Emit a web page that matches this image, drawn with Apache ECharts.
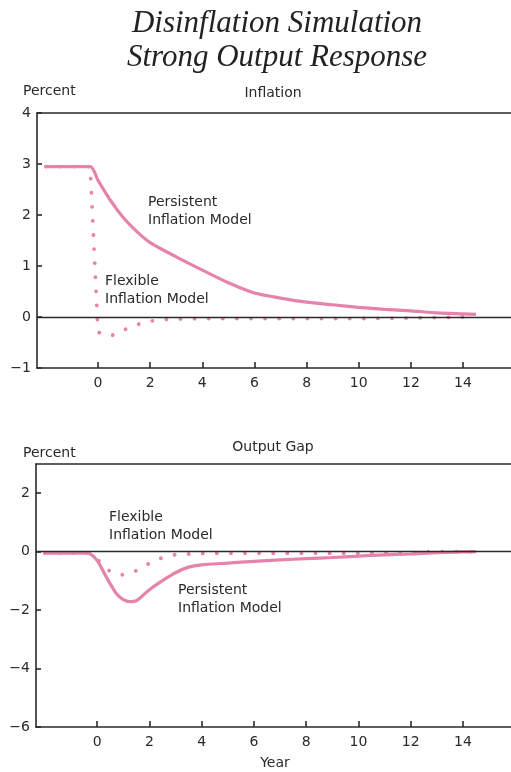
<!DOCTYPE html>
<html>
<head>
<meta charset="utf-8">
<script src="https://cdn.jsdelivr.net/npm/echarts@6/dist/echarts.min.js"></script>
<style>
html,body{margin:0;padding:0;background:#fff;}
#chart{width:511px;height:772px;}
</style>
</head>
<body>
<div id="chart"></div>
<script>
// ---- data ----
const xTickValues = [0, 2, 4, 6, 8, 10, 12, 14];
const inflYTicks = [-1, 0, 1, 2, 3, 4];
const gapYTicks = [-6, -4, -2, 0, 2];

const inflPersistentYears = [-2.0, -0.3, 0, 0.5, 1, 1.5, 2, 3, 4, 5, 6, 7, 8, 9, 10, 11, 12, 13, 14, 14.5];
const inflPersistentVals  = [2.95, 2.95, 2.68, 2.27, 1.93, 1.67, 1.46, 1.18, 0.92, 0.67, 0.47, 0.37, 0.29, 0.24, 0.19, 0.15, 0.12, 0.08, 0.06, 0.05];

const inflFlexibleYears = [-2.0, -0.3, 0, 0.5, 1, 1.5, 2, 2.5, 3, 4, 5, 6, 8, 10, 12, 13, 14, 14.5];
const inflFlexibleVals  = [2.95, 2.95, -0.3, -0.37, -0.25, -0.15, -0.08, -0.05, -0.04, -0.03, -0.03, -0.03, -0.03, -0.03, -0.02, -0.01, 0, 0];

const gapPersistentYears = [-2.0, -0.35, 0, 0.25, 0.5, 0.75, 1, 1.25, 1.5, 1.75, 2, 2.5, 3, 3.5, 4, 5, 6, 7, 8, 9, 10, 11, 12, 13, 14, 14.5];
const gapPersistentVals  = [-0.05, -0.05, -0.3, -0.7, -1.1, -1.45, -1.64, -1.71, -1.68, -1.5, -1.3, -0.99, -0.72, -0.53, -0.45, -0.39, -0.33, -0.28, -0.24, -0.2, -0.15, -0.11, -0.08, -0.03, -0.01, 0];

const gapFlexibleYears = [-2.0, -0.35, 0.05, 0.5, 1, 1.5, 2, 2.5, 3, 4, 5, 6, 8, 10, 12, 13, 14, 14.5];
const gapFlexibleVals  = [-0.05, -0.05, -0.3, -0.68, -0.8, -0.65, -0.4, -0.2, -0.1, -0.06, -0.05, -0.05, -0.05, -0.05, -0.03, 0, 0, 0];

// ---- helpers ----
const pair = (xs, ys) => xs.map((x, i) => [x, ys[i]]);
const PINK = '#e683aa';
const INK = '#2a2a2a';
const FONT = 'DejaVu Sans';
const minus = v => String(v).replace('-', '\u2212');

function xAxisBottom(gi) {
  return {
    type: 'value', gridIndex: gi, min: -2.34, max: 15.84, position: 'bottom',
    splitLine: { show: false },
    axisLine: { show: true, onZero: false, lineStyle: { color: INK, width: 1.6 } },
    axisTick: { show: true, inside: true, length: 6, customValues: xTickValues, lineStyle: { color: INK, width: 1.6 } },
    axisLabel: { customValues: xTickValues, color: INK, fontFamily: FONT, fontSize: 14, margin: 8 }
  };
}
function xAxisTop(gi) {
  return {
    type: 'value', gridIndex: gi, min: -2.34, max: 15.84, position: 'top',
    splitLine: { show: false },
    axisLine: { show: true, onZero: false, lineStyle: { color: INK, width: 1.6 } },
    axisTick: { show: false }, axisLabel: { show: false }
  };
}
function yAxis(gi, min, max, ticks) {
  return {
    type: 'value', gridIndex: gi, min: min, max: max,
    splitLine: { show: false },
    axisLine: { show: true, onZero: false, lineStyle: { color: INK, width: 1.6 } },
    axisTick: { show: true, inside: true, length: 5, customValues: ticks, lineStyle: { color: INK, width: 1.6 } },
    axisLabel: { customValues: ticks, color: INK, fontFamily: FONT, fontSize: 14, margin: 6, formatter: minus }
  };
}
function zeroLine(xi, yi) {
  return {
    type: 'line', xAxisIndex: xi, yAxisIndex: yi, data: [], z: 1, silent: true,
    markLine: { silent: true, symbol: 'none', label: { show: false },
      lineStyle: { color: INK, width: 1.4, type: 'solid' }, data: [{ yAxis: 0 }] }
  };
}
function solid(xi, yi, d) {
  return { type: 'line', xAxisIndex: xi, yAxisIndex: yi, data: d, showSymbol: false, z: 3,
    smooth: 0.25, lineStyle: { color: PINK, width: 3.2 } };
}
function dotted(xi, yi, d) {
  return { type: 'line', xAxisIndex: xi, yAxisIndex: yi, data: d, showSymbol: false, z: 4,
    lineStyle: { color: PINK, width: 3.8, type: [0.1, 14], cap: 'round' } };
}
function txt(x, y, s, align) {
  return { type: 'text', x: x, y: y, style: { text: s, fill: INK, font: '14px "DejaVu Sans"', lineHeight: 18, textAlign: align || 'left', textVerticalAlign: 'middle' } };
}

const chart = echarts.init(document.getElementById('chart'), null, { renderer: 'canvas' });
chart.setOption({
  animation: false,
  backgroundColor: '#ffffff',
  grid: [
    { left: 37, right: 0, top: 113, height: 255 },
    { left: 36, right: 0, top: 464, height: 263 }
  ],
  xAxis: [xAxisBottom(0), xAxisTop(0), xAxisBottom(1), xAxisTop(1)],
  yAxis: [yAxis(0, -1, 4, inflYTicks), yAxis(1, -6, 3, gapYTicks)],
  series: [
    zeroLine(0, 0),
    solid(0, 0, pair(inflPersistentYears, inflPersistentVals)),
    dotted(0, 0, pair(inflFlexibleYears, inflFlexibleVals)),
    zeroLine(2, 1),
    solid(2, 1, pair(gapPersistentYears, gapPersistentVals)),
    dotted(2, 1, pair(gapFlexibleYears, gapFlexibleVals))
  ],
  graphic: [
    { type: 'text', x: 277, y: 24, style: { text: 'Disinflation Simulation', fill: '#222', font: 'italic 31px "Liberation Serif"', textAlign: 'center', textVerticalAlign: 'middle' } },
    { type: 'text', x: 277, y: 58, style: { text: 'Strong Output Response', fill: '#222', font: 'italic 31px "Liberation Serif"', textAlign: 'center', textVerticalAlign: 'middle' } },
    txt(23, 91, 'Percent'),
    txt(273, 93, 'Inflation', 'center'),
    txt(148, 211, 'Persistent\nInflation Model'),
    txt(105, 290, 'Flexible\nInflation Model'),
    txt(23, 453, 'Percent'),
    txt(273, 447, 'Output Gap', 'center'),
    txt(109, 526, 'Flexible\nInflation Model'),
    txt(178, 599, 'Persistent\nInflation Model'),
    txt(275, 763, 'Year', 'center')
  ]
});
</script>
</body>
</html>
